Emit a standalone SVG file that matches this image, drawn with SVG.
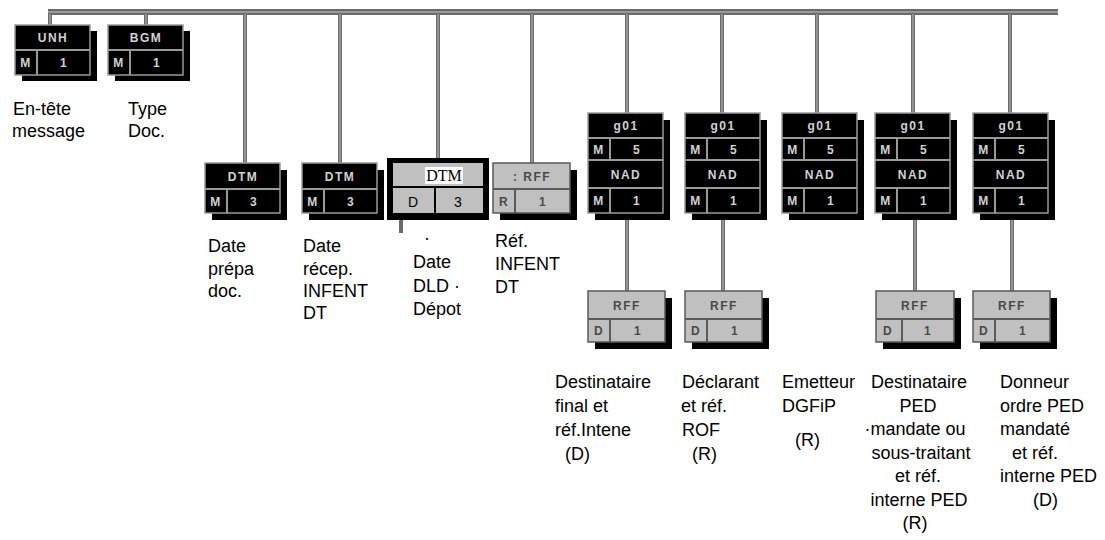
<svg xmlns="http://www.w3.org/2000/svg" width="1105" height="540" viewBox="0 0 1105 540">
<style>
.sh{fill:#000}
.bk{fill:#000;stroke:#9a9a9a;stroke-width:1.5}
.bl{fill:none;stroke:#9a9a9a;stroke-width:2}
.gy{fill:#c0c0c0;stroke:#5a5a5a;stroke-width:1.5}
.gl{fill:none;stroke:#5a5a5a;stroke-width:2}
.bt{font-family:"Liberation Sans",Arial,sans-serif;font-size:12px;font-weight:bold;fill:#d2d2d2;text-anchor:middle;letter-spacing:1.5px}
.gt{font-family:"Liberation Sans",Arial,sans-serif;font-size:12px;font-weight:bold;fill:#4a4a4a;text-anchor:middle;letter-spacing:1.5px}
.lb{font-family:"Liberation Sans",Arial,sans-serif;font-size:18px;fill:#000}
.mid{text-anchor:middle}
.cn{fill:none;stroke:#6a6a6a;stroke-width:4}
.cn2{fill:none;stroke:#ababab;stroke-width:1.3}
</style>

<g id="connectors">
  <rect x="48" y="9" width="1010" height="6" fill="#6a6a6a"/>
  <line x1="48" y1="12" x2="1058" y2="12" stroke="#ababab" stroke-width="1.5"/>
  <path class="cn" d="M50 14V25M146 14V25M245 14V163M340 14V163M438 14V158M532 14V163M627 14V113M722 14V113M817 14V113M913 14V113M1010 14V113M627 213V291M723 213V291M915 213V291M1012 213V291M817 213V218M401 220V233"/>
  <path class="cn2" d="M50 14V25M146 14V25M245 14V163M340 14V163M438 14V158M532 14V163M627 14V113M722 14V113M817 14V113M913 14V113M1010 14V113M627 219V291M723 219V291M915 219V291M1012 219V291"/>
</g>

<g id="UNH" transform="translate(15,25)">
  <rect class="sh" x="7" y="6" width="75" height="50"/>
  <rect class="bk" x="0" y="0" width="75" height="50"/>
  <path class="bl" d="M0 25H75M22 25V50"/>
  <text class="bt" x="38" y="17">UNH</text>
  <text class="bt" x="11" y="42">M</text>
  <text class="bt" x="49" y="42">1</text>
</g>

<g id="BGM" transform="translate(108,25)">
  <rect class="sh" x="7" y="6" width="75" height="50"/>
  <rect class="bk" x="0" y="0" width="75" height="50"/>
  <path class="bl" d="M0 25H75M22 25V50"/>
  <text class="bt" x="38" y="17">BGM</text>
  <text class="bt" x="11" y="42">M</text>
  <text class="bt" x="49" y="42">1</text>
</g>

<g id="DTM1" transform="translate(205,163)">
  <rect class="sh" x="7" y="7" width="75" height="50"/>
  <rect class="bk" x="0" y="0" width="75" height="50"/>
  <path class="bl" d="M0 26H75M22 26V50"/>
  <text class="bt" x="38" y="18">DTM</text>
  <text class="bt" x="11" y="43">M</text>
  <text class="bt" x="49" y="43">3</text>
</g>

<g id="DTM2" transform="translate(302,163)">
  <rect class="sh" x="7" y="7" width="75" height="50"/>
  <rect class="bk" x="0" y="0" width="75" height="50"/>
  <path class="bl" d="M0 26H75M22 26V50"/>
  <text class="bt" x="38" y="18">DTM</text>
  <text class="bt" x="11" y="43">M</text>
  <text class="bt" x="49" y="43">3</text>
</g>

<g id="DTM3">
  <rect x="387" y="158" width="102" height="62" fill="#000"/>
  <rect x="393" y="163" width="90" height="23" fill="#c0c0c0"/>
  <rect x="393" y="188" width="41" height="25" fill="#c0c0c0"/>
  <rect x="436" y="188" width="47" height="25" fill="#c0c0c0"/>
  <rect x="425" y="167" width="38" height="17" fill="#fff"/>
  <text x="444" y="181" style="font-family:'Liberation Serif','Times New Roman',serif;font-size:16px;fill:#000;text-anchor:middle">DTM</text>
  <text x="413" y="207" style="font-family:'Liberation Sans',Arial,sans-serif;font-size:14px;fill:#000;text-anchor:middle">D</text>
  <text x="458" y="207" style="font-family:'Liberation Sans',Arial,sans-serif;font-size:14px;fill:#000;text-anchor:middle">3</text>
</g>

<g id="RFF_R" transform="translate(493,163)">
  <rect class="sh" x="7" y="7" width="77" height="50"/>
  <rect class="gy" x="0" y="0" width="77" height="50"/>
  <path class="gl" d="M0 26H77M22 26V50"/>
  <text class="gt" x="39" y="18">: RFF</text>
  <text class="gt" x="11" y="43">R</text>
  <text class="gt" x="50" y="43">1</text>
</g>

<g id="G1" transform="translate(588,113)">
  <rect class="sh" x="7" y="7" width="75" height="100"/>
  <rect class="bk" x="0" y="0" width="75" height="100"/>
  <path class="bl" d="M0 25H75M0 47H75M0 75H75M22 25V47M22 75V100"/>
  <text class="bt" x="38" y="17">g01</text>
  <text class="bt" x="11" y="41">M</text>
  <text class="bt" x="49" y="41">5</text>
  <text class="bt" x="38" y="66">NAD</text>
  <text class="bt" x="11" y="92">M</text>
  <text class="bt" x="49" y="92">1</text>
</g>

<g id="G2" transform="translate(685,113)">
  <rect class="sh" x="7" y="7" width="75" height="100"/>
  <rect class="bk" x="0" y="0" width="75" height="100"/>
  <path class="bl" d="M0 25H75M0 47H75M0 75H75M22 25V47M22 75V100"/>
  <text class="bt" x="38" y="17">g01</text>
  <text class="bt" x="11" y="41">M</text>
  <text class="bt" x="49" y="41">5</text>
  <text class="bt" x="38" y="66">NAD</text>
  <text class="bt" x="11" y="92">M</text>
  <text class="bt" x="49" y="92">1</text>
</g>

<g id="G3" transform="translate(782,113)">
  <rect class="sh" x="7" y="7" width="75" height="100"/>
  <rect class="bk" x="0" y="0" width="75" height="100"/>
  <path class="bl" d="M0 25H75M0 47H75M0 75H75M22 25V47M22 75V100"/>
  <text class="bt" x="38" y="17">g01</text>
  <text class="bt" x="11" y="41">M</text>
  <text class="bt" x="49" y="41">5</text>
  <text class="bt" x="38" y="66">NAD</text>
  <text class="bt" x="11" y="92">M</text>
  <text class="bt" x="49" y="92">1</text>
</g>

<g id="G4" transform="translate(875,113)">
  <rect class="sh" x="7" y="7" width="75" height="100"/>
  <rect class="bk" x="0" y="0" width="75" height="100"/>
  <path class="bl" d="M0 25H75M0 47H75M0 75H75M22 25V47M22 75V100"/>
  <text class="bt" x="38" y="17">g01</text>
  <text class="bt" x="11" y="41">M</text>
  <text class="bt" x="49" y="41">5</text>
  <text class="bt" x="38" y="66">NAD</text>
  <text class="bt" x="11" y="92">M</text>
  <text class="bt" x="49" y="92">1</text>
</g>

<g id="G5" transform="translate(973,113)">
  <rect class="sh" x="7" y="7" width="75" height="100"/>
  <rect class="bk" x="0" y="0" width="75" height="100"/>
  <path class="bl" d="M0 25H75M0 47H75M0 75H75M22 25V47M22 75V100"/>
  <text class="bt" x="38" y="17">g01</text>
  <text class="bt" x="11" y="41">M</text>
  <text class="bt" x="49" y="41">5</text>
  <text class="bt" x="38" y="66">NAD</text>
  <text class="bt" x="11" y="92">M</text>
  <text class="bt" x="49" y="92">1</text>
</g>

<g id="RFF1" transform="translate(588,291)">
  <rect class="sh" x="7" y="7" width="77" height="51"/>
  <rect class="gy" x="0" y="0" width="77" height="51"/>
  <path class="gl" d="M0 28H77M22 28V51"/>
  <text class="gt" x="39" y="19">RFF</text>
  <text class="gt" x="11" y="44">D</text>
  <text class="gt" x="50" y="44">1</text>
</g>

<g id="RFF2" transform="translate(685,291)">
  <rect class="sh" x="7" y="7" width="77" height="51"/>
  <rect class="gy" x="0" y="0" width="77" height="51"/>
  <path class="gl" d="M0 28H77M22 28V51"/>
  <text class="gt" x="39" y="19">RFF</text>
  <text class="gt" x="11" y="44">D</text>
  <text class="gt" x="50" y="44">1</text>
</g>

<g id="RFF4" transform="translate(876,291)">
  <rect class="sh" x="7" y="7" width="78" height="51"/>
  <rect class="gy" x="0" y="0" width="78" height="51"/>
  <path class="gl" d="M0 28H78M26 28V51"/>
  <text class="gt" x="39" y="19">RFF</text>
  <text class="gt" x="12" y="44">D</text>
  <text class="gt" x="52" y="44">1</text>
</g>

<g id="RFF5" transform="translate(973,291)">
  <rect class="sh" x="7" y="7" width="77" height="51"/>
  <rect class="gy" x="0" y="0" width="77" height="51"/>
  <path class="gl" d="M0 28H77M22 28V51"/>
  <text class="gt" x="39" y="19">RFF</text>
  <text class="gt" x="11" y="44">D</text>
  <text class="gt" x="50" y="44">1</text>
</g>

<g id="labels">
  <text class="lb" x="13" y="115">En-tête</text>
  <text class="lb" x="12" y="137">message</text>
  <text class="lb" x="128" y="115">Type</text>
  <text class="lb" x="128" y="137">Doc.</text>

  <text class="lb" x="208" y="252">Date</text>
  <text class="lb" x="208" y="275">prépa</text>
  <text class="lb" x="208" y="297">doc.</text>

  <text class="lb" x="303" y="252">Date</text>
  <text class="lb" x="303" y="275">récep.</text>
  <text class="lb" x="303" y="297">INFENT</text>
  <text class="lb" x="303" y="319">DT</text>

  <text class="lb" x="424" y="244">·</text>
  <text class="lb" x="413" y="268">Date</text>
  <text class="lb" x="413" y="292">DLD ·</text>
  <text class="lb" x="413" y="315">Dépot</text>

  <text class="lb" x="495" y="247">Réf.</text>
  <text class="lb" x="495" y="270">INFENT</text>
  <text class="lb" x="495" y="293">DT</text>

  <text class="lb" x="555" y="388">Destinataire</text>
  <text class="lb" x="555" y="412">final et</text>
  <text class="lb" x="555" y="436">réf.Intene</text>
  <text class="lb" x="565" y="460">(D)</text>

  <text class="lb" x="682" y="388">Déclarant</text>
  <text class="lb" x="681" y="412">et réf.</text>
  <text class="lb" x="682" y="436">ROF</text>
  <text class="lb" x="692" y="460">(R)</text>

  <text class="lb" x="782" y="388">Emetteur</text>
  <text class="lb" x="782" y="412">DGFiP</text>
  <text class="lb" x="795" y="446">(R)</text>

  <text class="lb mid" x="919" y="388">Destinataire</text>
  <text class="lb mid" x="918" y="411.5">PED</text>
  <text class="lb mid" x="915" y="435">·mandate ou</text>
  <text class="lb mid" x="921" y="458.5">sous-traitant</text>
  <text class="lb mid" x="918" y="482">et réf.</text>
  <text class="lb mid" x="919" y="505.5">interne PED</text>
  <text class="lb mid" x="915" y="529">(R)</text>

  <text class="lb" x="1000" y="388">Donneur</text>
  <text class="lb" x="1000" y="411.5">ordre PED</text>
  <text class="lb" x="1000" y="435">mandaté</text>
  <text class="lb" x="1012" y="458.5">et réf.</text>
  <text class="lb" x="1000" y="482">interne PED</text>
  <text class="lb" x="1033" y="505.5">(D)</text>
</g>
</svg>
